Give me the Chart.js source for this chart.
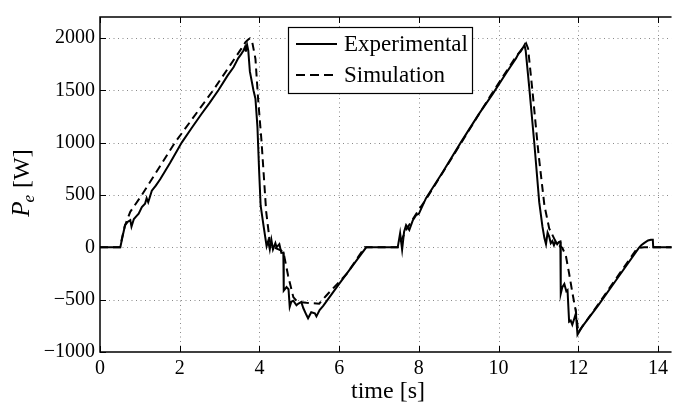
<!DOCTYPE html>
<html>
<head>
<meta charset="utf-8">
<script src="https://cdn.jsdelivr.net/npm/chart.js@4"></script>
<style>
  body { margin: 0; background: #fff; }
  #wrap { width: 673px; height: 404px; position: relative; }
</style>
</head>
<body>
<div id="wrap"><canvas class="chart"></canvas></div>
<script>
// Measured power, time [s] / P_e [W]
const tExp = [0, 0.51, 0.57, 0.63, 0.7, 0.76, 0.79, 0.85, 0.92, 0.97, 1.05, 1.13, 1.17, 1.21, 1.3, 1.4, 1.51, 1.62, 1.76, 1.9,
  2.05, 2.3, 2.55, 2.75, 2.97, 3.2, 3.35, 3.47, 3.55, 3.6, 3.64, 3.66, 3.69, 3.72, 3.76, 3.85, 3.9, 3.95, 3.99, 4.03,
  4.1, 4.18, 4.22, 4.26, 4.3, 4.34, 4.4, 4.43, 4.5, 4.55, 4.6, 4.61, 4.68, 4.73, 4.76, 4.8, 4.85, 4.93, 4.97, 5.05,
  5.1, 5.18, 5.22, 5.3, 5.39, 5.43, 5.51, 5.6, 6.0, 6.4, 6.68, 7.47, 7.53, 7.58, 7.63, 7.68, 7.76, 7.85, 7.93, 8.0,
  8.18, 8.6, 9.05, 9.5, 9.85, 10.2, 10.44, 10.5, 10.55, 10.6, 10.65, 10.68, 10.77, 10.9, 11.02, 11.1, 11.15, 11.19, 11.23, 11.27,
  11.31, 11.35, 11.39, 11.43, 11.47, 11.51, 11.55, 11.56, 11.6, 11.65, 11.7, 11.73, 11.77, 11.81, 11.85, 11.9, 11.94, 11.98, 12.1, 12.5,
  13.0, 13.52, 13.58, 13.65, 13.75, 13.82, 13.87, 13.88, 14.4];
const pExp = [0, 0, 110, 213, 245, 260, 197, 270, 300, 322, 384, 416, 470, 430, 541, 590, 650, 720, 807, 900,
  1000, 1140, 1276, 1380, 1500, 1640, 1720, 1807, 1850, 1880, 1916, 1870, 1935, 1880, 1680, 1500, 1420, 1150, 750, 400,
  215, 10, 60, -20, 72, -20, 40, 0, 30, -53, -50, -413, -380, -400, -569, -520, -510, -553, -540, -522,
  -580, -647, -678, -620, -631, -660, -600, -560, -349, -143, 0, 0, 134, -22, 150, 213, 166, 260, 307, 320,
  470, 720, 1000, 1270, 1463, 1670, 1807, 1850, 1870, 1900, 1932, 1880, 1526, 980, 431, 200, 88, 30, 140, 103,
  40, 60, 20, 56, 30, 50, 56, -444, -380, -350, -420, -410, -710, -700, -740, -680, -631, -835, -757, -555,
  -286, -6, 20, 40, 65, 72, 72, 0, 0];

// Simulated power
const tSim = [0, 0.5, 0.62, 0.76, 1.05, 1.88, 2.84, 3.55, 3.65, 3.72, 3.76, 3.82, 3.9, 3.97, 4.05, 4.17, 4.26, 4.35, 4.55, 4.62,
  4.72, 4.85, 4.95, 5.18, 5.5, 5.68, 6.2, 6.64, 7.47, 7.55, 7.7, 8.0, 8.2, 9.0, 9.8, 10.4, 10.6, 10.69, 10.74, 10.85,
  11.0, 11.15, 11.27, 11.45, 11.6, 11.69, 11.77, 11.85, 11.94, 12.0, 12.5, 13.0, 13.45, 13.55, 13.65, 14.4];
const pSim = [0, 0, 200, 340, 500, 1000, 1500, 1900, 1960, 1985, 1995, 1960, 1800, 1400, 1025, 338, 56, 0, -30, -80,
  -272, -475, -520, -530, -538, -460, -250, 0, 0, 60, 180, 360, 470, 960, 1450, 1800, 1900, 1948, 1900, 1494,
  900, 400, 181, 40, -5, -84, -250, -430, -616, -810, -545, -270, -25, -5, 0, 0];

const xTicks = [0, 2, 4, 6, 8, 10, 12, 14];
const yTicks = [-1000, -500, 0, 500, 1000, 1500, 2000];

const serif = '"Liberation Serif", "Times New Roman", serif';
const pts = (xs, ys) => xs.map((x, i) => ({ x, y: ys[i] }));

// grid, frame, inward ticks, titles, legend
const decor = {
  id: "decor",
  beforeDatasetsDraw(chart) {
    const { ctx, chartArea: a, scales: { x, y } } = chart;
    ctx.save();
    ctx.strokeStyle = "#8a8a8a";
    ctx.lineWidth = 1;
    ctx.setLineDash([1, 3.5]);
    xTicks.forEach((v) => {
      if (v === 0) return;
      const px = Math.round(x.getPixelForValue(v)) + 0.5;
      ctx.beginPath(); ctx.moveTo(px, a.top); ctx.lineTo(px, a.bottom); ctx.stroke();
    });
    yTicks.forEach((v) => {
      if (v === -1000) return;
      const py = Math.round(y.getPixelForValue(v)) + 0.5;
      ctx.beginPath(); ctx.moveTo(a.left, py); ctx.lineTo(a.right, py); ctx.stroke();
    });
    ctx.restore();
  },
  afterDatasetsDraw(chart) {
    const { ctx, chartArea: a, scales: { x, y } } = chart;
    ctx.save();
    ctx.strokeStyle = "#000";
    ctx.lineWidth = 1.5;
    ctx.beginPath();
    ctx.moveTo(a.right, a.top); ctx.lineTo(a.left, a.top);
    ctx.lineTo(a.left, a.bottom); ctx.lineTo(a.right, a.bottom);
    ctx.stroke();
    ctx.lineWidth = 1;
    xTicks.forEach((v) => {
      const px = Math.round(x.getPixelForValue(v)) + 0.5;
      ctx.beginPath(); ctx.moveTo(px, a.bottom); ctx.lineTo(px, a.bottom - 6); ctx.stroke();
      ctx.beginPath(); ctx.moveTo(px, a.top); ctx.lineTo(px, a.top + 6); ctx.stroke();
    });
    yTicks.forEach((v) => {
      const py = Math.round(y.getPixelForValue(v)) + 0.5;
      ctx.beginPath(); ctx.moveTo(a.left, py); ctx.lineTo(a.left + 6, py); ctx.stroke();
    });

    // legend
    const lx = 288, ly = 27, lw = 184, lh = 66;
    ctx.fillStyle = "#fff";
    ctx.fillRect(lx, ly, lw, lh);
    ctx.lineWidth = 1.2;
    ctx.strokeRect(lx + 0.5, ly + 0.5, lw, lh);
    const rows = [["Experimental", [], 44], ["Simulation", [9, 5], 75]];
    rows.forEach(([label, dash, ry]) => {
      ctx.lineWidth = 2;
      ctx.setLineDash(dash);
      ctx.beginPath(); ctx.moveTo(296, ry); ctx.lineTo(337, ry); ctx.stroke();
      ctx.setLineDash([]);
      ctx.fillStyle = "#000";
      ctx.font = "23px " + serif;
      ctx.textBaseline = "middle";
      ctx.textAlign = "left";
      ctx.fillText(label, 344, ry + 1);
    });

    // x title
    ctx.font = "24px " + serif;
    ctx.textAlign = "center";
    ctx.textBaseline = "alphabetic";
    ctx.fillText("time [s]", 388, 398);

    // y title: P_e [W]
    ctx.translate(29, 183);
    ctx.rotate(-Math.PI / 2);
    ctx.textAlign = "left";
    const fP = "italic 25px " + serif, fe = "italic 17px " + serif, fW = "24px " + serif;
    ctx.font = fP; const wP = ctx.measureText("P").width;
    ctx.font = fe; const we = ctx.measureText("e").width;
    ctx.font = fW; const wW = ctx.measureText(" [W]").width;
    let cx = -(wP + we + wW) / 2;
    ctx.font = fP; ctx.fillText("P", cx, 0); cx += wP;
    ctx.font = fe; ctx.fillText("e", cx - 1, 5); cx += we;
    ctx.font = fW; ctx.fillText(" [W]", cx, 0);
    ctx.restore();
  },
};

const chart = document.querySelector(".chart").getContext("2d");

const config = {
  type: "line",
  data: {
    datasets: [
      {
        label: "Experimental",
        data: pts(tExp, pExp),
        borderColor: "#000",
        borderWidth: 2,
      },
      {
        label: "Simulation",
        data: pts(tSim, pSim),
        borderColor: "#000",
        borderWidth: 2,
        borderDash: [8, 5],
      },
    ],
  },
  options: {
    responsive: true,
    maintainAspectRatio: false,
    animation: false,
    pointRadius: 0,
    tension: 0,
    layout: { padding: { top: 12, right: 0, left: 0, bottom: 0 } },
    plugins: {
      legend: { display: false },
      tooltip: { enabled: false },
    },
    scales: {
      x: {
        type: "linear",
        min: 0,
        max: 14.34,
        afterBuildTicks: (s) => { s.ticks = xTicks.map((v) => ({ value: v })); },
        afterFit: (s) => { s.height = 52; },
        grid: { display: false, drawTicks: false },
        border: { display: false },
        ticks: {
          color: "#000",
          padding: 5,
          maxRotation: 0,
          font: { family: serif, size: 20 },
        },
      },
      y: {
        type: "linear",
        min: -1000,
        max: 2200,
        afterBuildTicks: (s) => { s.ticks = yTicks.map((v) => ({ value: v })); },
        afterFit: (s) => { s.width = 100; },
        grid: { display: false, drawTicks: false },
        border: { display: false },
        ticks: {
          color: "#000",
          padding: 5,
          font: { family: serif, size: 20 },
          callback: (v) => String(v).replace("-", "\u2212"),
        },
      },
    },
  },
  plugins: [decor],
};

const myChart = new Chart(chart, config);
</script>
</body>
</html>
